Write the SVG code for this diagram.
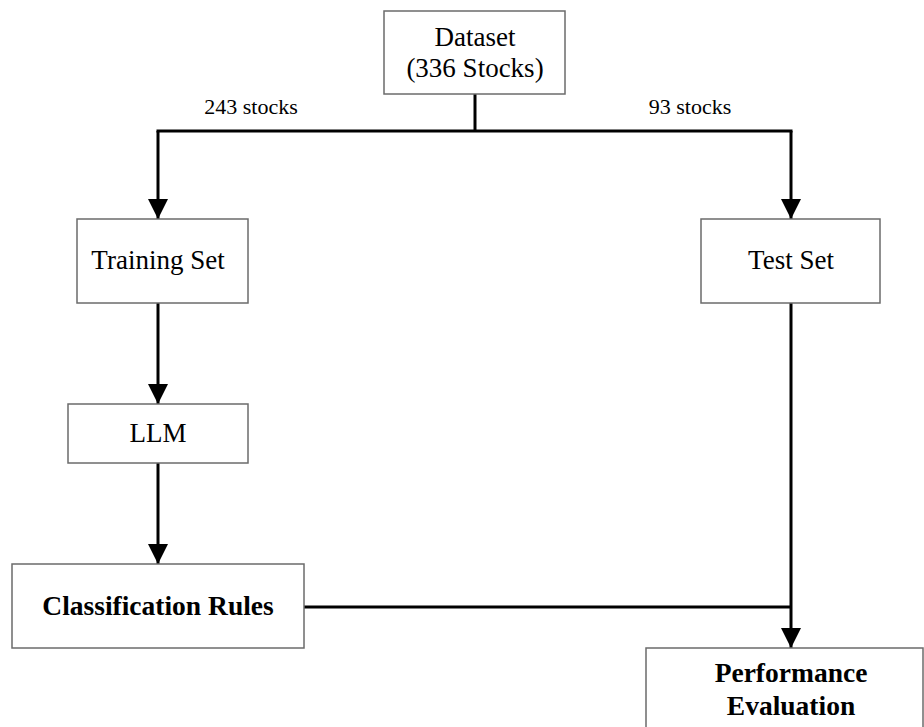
<svg xmlns="http://www.w3.org/2000/svg" width="924" height="727" viewBox="0 0 924 727">
<style>
.box{fill:#fff;stroke:#6b6b6b;stroke-width:1.5}
.t{font-family:"Liberation Serif","Times New Roman",serif;font-size:27px;fill:#000;text-anchor:middle}
.b{font-weight:bold;font-size:27.5px}
.lbl{font-family:"Liberation Serif","Times New Roman",serif;font-size:22px;fill:#000;text-anchor:middle}
.c{fill:none;stroke:#000;stroke-width:3}
</style>
<defs>
<marker id="ah" viewBox="0 0 20 20" refX="20" refY="10" markerWidth="20" markerHeight="20" markerUnits="userSpaceOnUse" orient="auto">
<path d="M0,0 L20,10 L0,20 Z" fill="#000"/>
</marker>
</defs>
<g id="connectors">
<path class="c" d="M475,94 V131"/>
<path class="c" d="M156.5,131 H792.5"/>
<path class="c" d="M158,131 V219" marker-end="url(#ah)"/>
<path class="c" d="M791,131 V219" marker-end="url(#ah)"/>
<path class="c" d="M158,303 V404" marker-end="url(#ah)"/>
<path class="c" d="M158,463 V564" marker-end="url(#ah)"/>
<path class="c" d="M791,303 V648" marker-end="url(#ah)"/>
<path class="c" d="M304,607 H791"/>
<text class="lbl" x="251" y="114">243 stocks</text>
<text class="lbl" x="690" y="114">93 stocks</text>
</g>
<g id="dataset">
<rect class="box" x="384" y="11" width="181" height="83"/>
<text class="t" x="475" y="46">Dataset</text>
<text class="t" x="475" y="77">(336 Stocks)</text>
</g>
<g id="training">
<rect class="box" x="77" y="219" width="171" height="84"/>
<text class="t" x="158" y="269">Training Set</text>
</g>
<g id="test">
<rect class="box" x="701" y="219" width="179" height="84"/>
<text class="t" x="791" y="269">Test Set</text>
</g>
<g id="llm">
<rect class="box" x="68" y="404" width="180" height="59"/>
<text class="t" x="158" y="442">LLM</text>
</g>
<g id="rules">
<rect class="box" x="12" y="564" width="292" height="84"/>
<text class="t b" x="158" y="615">Classification Rules</text>
</g>
<g id="performance">
<rect class="box" x="646" y="648" width="277" height="100"/>
<text class="t b" x="791" y="682">Performance</text>
<text class="t b" x="791" y="715">Evaluation</text>
</g>
</svg>
